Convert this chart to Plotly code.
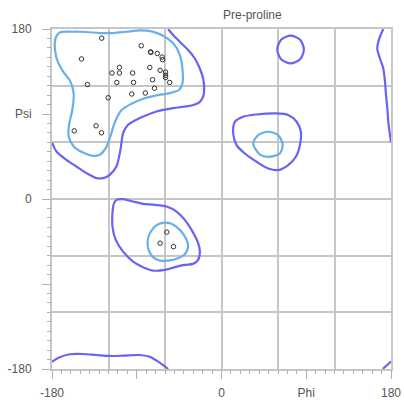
import plotly.graph_objects as go

# ---------------- data (degrees) ----------------
# observed residues (phi, psi)
obs_phi = [-127.2, -148.7, -142.4, -120.3, -133.2, -156.4, -127.5, -85.2, -75.4, -75.0,
           -68.2, -63.1, -62.6, -108.4, -76.2, -116.3, -108.4, -94.4, -65.2, -59.4,
           -59.4, -59.4, -111.2, -93.4, -73.2, -55.1, -71.1, -80.9, -95.3,
           -58.1, -65.2, -51.0]
obs_psi = [170.3, 148.3, 121.2, 107.2, 77.5, 72.2, 70.1, 162.3, 155.7, 155.2,
           154.1, 150.3, 147.5, 139.3, 139.3, 133.4, 133.4, 133.4, 136.3, 134.4,
           131.0, 128.7, 123.4, 123.4, 126.3, 123.4, 117.3, 112.2, 111.2,
           -35.1, -46.8, -50.4]

# favoured region contours (light blue)
fav_beta_phi = [-177.1, -175.4, -171.8, -157.7, -143.5, -129.3, -115.1, -101.0, -86.8, -74.4,
                -62.0, -51.4, -44.3, -41.4, -41.4, -45.0, -54.9, -69.1, -83.2, -95.6,
                -106.3, -113.4, -118.0, -122.9, -129.3, -136.4, -147.0, -157.0, -162.3, -161.9,
                -158.4, -157.0, -160.5, -168.3, -174.7, -177.1, -177.1]
fav_beta_psi = [165.1, 172.2, 176.4, 177.1, 176.8, 175.7, 175.7, 177.1, 178.5, 177.5,
                172.9, 165.1, 152.7, 136.9, 122.7, 115.7, 112.1, 109.7, 106.1, 100.8,
                94.0, 81.0, 66.2, 53.8, 46.8, 45.7, 49.2, 55.6, 66.2, 78.6,
                94.5, 112.1, 124.5, 135.1, 147.5, 161.6, 165.1]

fav_alpha_phi = [-60.2, -53.1, -44.3, -37.9, -35.4, -39.0, -46.1, -56.7, -65.5, -73.3,
                 -78.0, -78.0, -74.4, -67.3, -60.2]
fav_alpha_psi = [-25.0, -26.3, -32.7, -41.5, -50.4, -58.4, -62.7, -65.2, -65.2, -61.0,
                 -52.1, -41.5, -33.4, -26.7, -25.0]

fav_left_phi = [49.6, 60.2, 64.9, 62.0, 49.6, 40.8, 33.6, 39.0, 49.6]
fav_left_psi = [71.2, 67.7, 57.7, 48.2, 44.7, 47.1, 58.8, 67.7, 71.2]

# allowed region contours (violet)
alw_beta_phi = [-56.7, -51.4, -44.3, -35.4, -28.3, -23.0, -19.5, -18.4, -19.5, -23.0,
                -28.3, -37.1, -51.4, -69.0, -86.8, -99.2, -104.5, -107.3, -111.6, -118.7,
                -125.8, -132.8, -143.4, -154.1, -164.7, -175.3, -180.0]
alw_beta_psi = [180.0, 173.6, 166.5, 157.7, 148.8, 138.2, 127.6, 117.1, 108.3, 102.9,
                100.1, 98.0, 96.3, 92.7, 85.7, 78.6, 69.8, 52.1, 34.4, 25.6,
                22.1, 22.1, 27.4, 34.4, 41.5, 50.3, 60.0]

alw_wrap_phi = [171.8, 167.6, 165.4, 168.3, 171.8, 173.6, 174.7, 176.1, 177.1, 180.0]
alw_wrap_psi = [180.0, 170.0, 159.4, 148.8, 138.2, 124.2, 110.1, 95.9, 81.8, 60.0]

alw_bottom_phi = [-180.0, -171.8, -161.2, -147.1, -132.8, -118.7, -104.5, -86.8, -76.2, -69.0,
                  -62.0, -56.7]
alw_bottom_psi = [-172.3, -167.6, -164.4, -164.1, -165.2, -166.2, -165.9, -165.2, -167.0, -171.2,
                  -175.8, -180.0]

alw_corner_phi = [171.2, 175.4, 180.0]
alw_corner_psi = [-180.0, -176.3, -172.0]

alw_alpha_phi = [-111.6, -104.5, -93.9, -83.3, -70.8, -58.4, -47.8, -39.0, -31.8, -24.8,
                 -23.0, -24.8, -30.1, -39.0, -49.6, -60.2, -72.7, -83.3, -93.9, -104.5,
                 -112.3, -115.8, -115.8, -114.4, -111.6]
alw_alpha_psi = [-0.9, -0.2, -2.7, -5.1, -6.2, -8.0, -13.3, -22.1, -32.7, -46.8,
                 -55.7, -64.5, -68.7, -69.8, -72.2, -75.1, -75.8, -72.2, -66.3, -55.7,
                 -43.3, -29.2, -15.0, -5.1, -0.9]

alw_left_phi = [14.2, 23.0, 37.3, 58.5, 70.8, 79.8, 84.3, 83.3, 79.0, 70.8,
                60.2, 49.6, 37.3, 24.8, 16.0, 12.4, 14.2]
alw_left_psi = [81.7, 87.1, 89.5, 90.6, 88.9, 81.8, 71.2, 57.1, 44.7, 35.9,
                30.6, 32.3, 39.4, 48.2, 57.1, 69.4, 81.7]

alw_island_phi = [73.4, 83.5, 87.5, 83.5, 73.4, 63.3, 59.2, 63.3, 73.4]
alw_island_psi = [172.9, 168.7, 158.4, 148.0, 143.5, 148.0, 158.4, 168.7, 172.9]

grid_ticks = [-180, -120, -60, 0, 60, 120, 180]
label_ticks = [-180, -90, 0, 90, 180]
x_labels = ["-180", "", "0", "Phi", "180"]
y_labels = ["-180", "", "0", "Psi", "180"]
title_text = "Pre-proline"

# ---------------- figure ----------------
VIOLET = "#6a62f4"
LIGHT = "#68b0ea"
GRID = "#c6c6c6"
TXT = "#555555"
FONT = "Liberation Sans, Arial, sans-serif"

fig = go.Figure()

def add_line(px, py, color):
    fig.add_trace(go.Scatter(x=px, y=py, mode="lines",
                             line=dict(color=color, width=2.2, shape="spline", smoothing=0.8),
                             hoverinfo="skip", showlegend=False, xaxis="x", yaxis="y"))

for px, py in [(alw_beta_phi, alw_beta_psi), (alw_wrap_phi, alw_wrap_psi),
               (alw_bottom_phi, alw_bottom_psi), (alw_corner_phi, alw_corner_psi),
               (alw_alpha_phi, alw_alpha_psi), (alw_left_phi, alw_left_psi),
               (alw_island_phi, alw_island_psi)]:
    add_line(px, py, VIOLET)

for px, py in [(fav_beta_phi, fav_beta_psi), (fav_alpha_phi, fav_alpha_psi),
               (fav_left_phi, fav_left_psi)]:
    add_line(px, py, LIGHT)

fig.add_trace(go.Scatter(x=obs_phi, y=obs_psi, mode="markers",
                         marker=dict(symbol="circle-open", size=4.5, color="#333333",
                                     line=dict(width=1, color="#333333")),
                         showlegend=False, xaxis="x2", yaxis="y2"))

grid_axis = dict(range=[-180, 180], tickmode="array", tickvals=grid_ticks,
                 showticklabels=False, ticks="", showgrid=True, gridcolor=GRID,
                 gridwidth=1.5, zeroline=False, showline=True, linecolor=GRID,
                 linewidth=1.5, mirror=True, fixedrange=True, automargin=False)

def label_axis(labels, overlay, anchor, side, standoff):
    return dict(range=[-180, 180], overlaying=overlay, anchor=anchor, side=side,
                tickmode="array", tickvals=label_ticks, ticktext=labels,
                ticks="outside", ticklen=9, tickwidth=1, tickcolor="#b0b0b0",
                minor=dict(tickmode="linear", tick0=0, dtick=10, ticks="outside",
                           ticklen=4, tickwidth=1, tickcolor="#b0b0b0", showgrid=False),
                showgrid=False, zeroline=False, showline=False, automargin=False,
                ticklabelstandoff=standoff,
                tickfont=dict(family=FONT, size=12, color=TXT), fixedrange=True)

fig.update_layout(
    width=404, height=402,
    margin=dict(l=52, r=13, t=29, b=33, autoexpand=False),
    paper_bgcolor="white", plot_bgcolor="white",
    xaxis=grid_axis, yaxis=grid_axis,
    xaxis2=label_axis(x_labels, "x", "y", "bottom", 4),
    yaxis2=label_axis(y_labels, "y", "x", "left", 8),
    annotations=[dict(text=title_text, xref="paper", yref="paper", x=0.59, y=1.0,
                      yshift=14, xanchor="center", yanchor="middle", showarrow=False,
                      font=dict(family=FONT, size=12, color=TXT))],
)

# remove the page's default body margin so the figure fills the window exactly
fig.write_html("out.html", config={"displayModeBar": False},
               post_script="document.body.style.margin='0';document.body.style.overflow='hidden';")
